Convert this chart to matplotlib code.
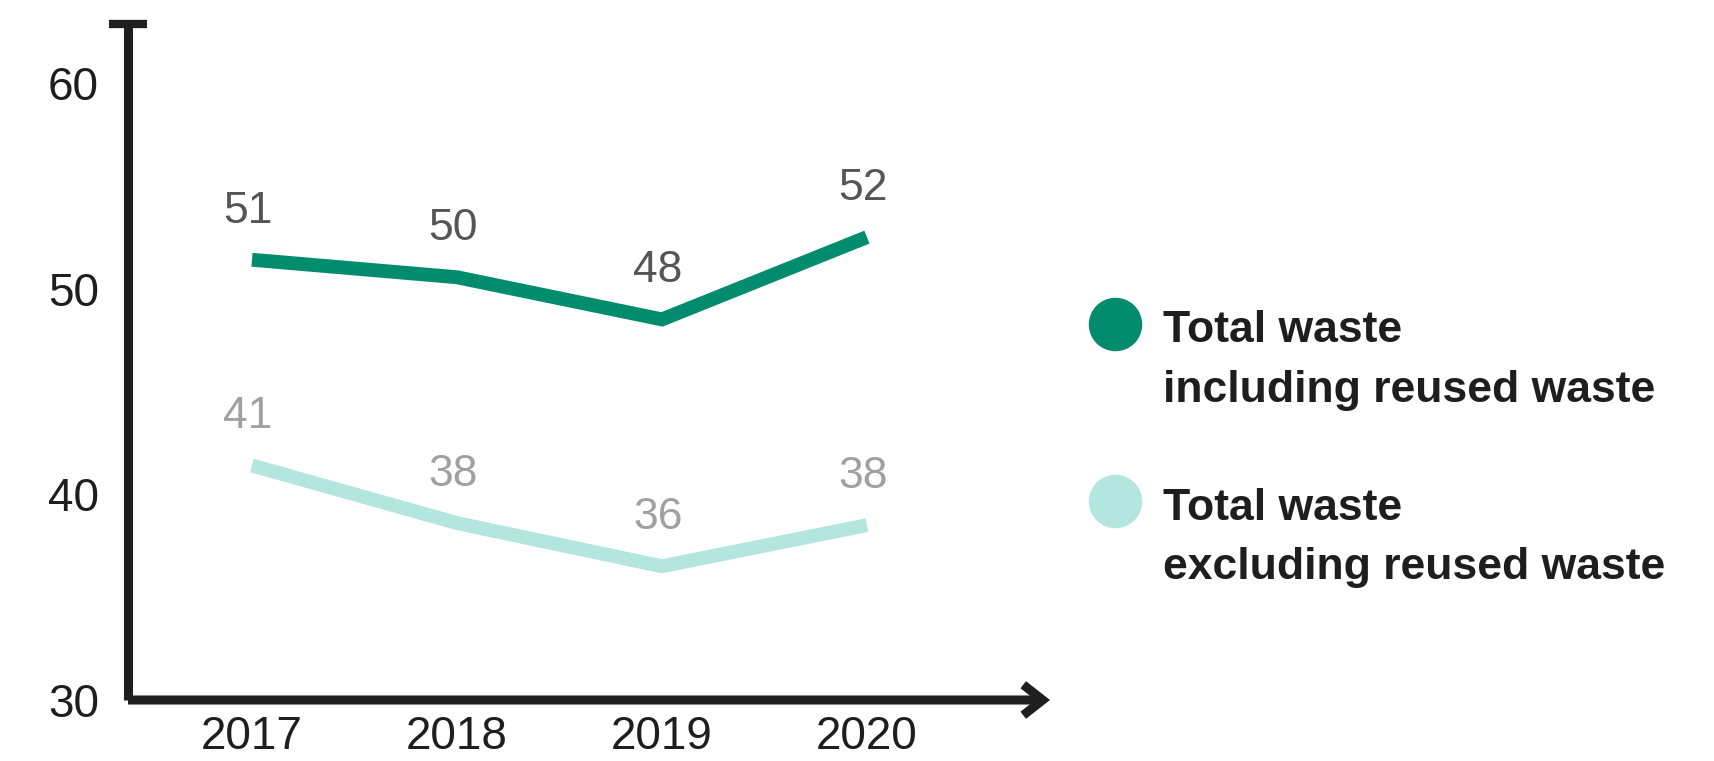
import matplotlib
matplotlib.use("Agg")
import matplotlib.pyplot as plt
from matplotlib.lines import Line2D

# ---- data ----
years = ["2017", "2018", "2019", "2020"]
incl_values = [51.4, 50.55, 48.5, 52.5]
incl_labels = ["51", "50", "48", "52"]
excl_values = [41.4, 38.6, 36.5, 38.5]
excl_labels = ["41", "38", "36", "38"]
yticks = [30, 40, 50, 60]
legend_lines = [["Total waste", "including reused waste"],
                ["Total waste", "excluding reused waste"]]

DARK = "#008C6D"
LIGHT = "#B3E6DF"
AXC = "#1E1E1E"

plt.rcParams["font.family"] = ["Liberation Sans", "DejaVu Sans"]

W, H = 1715, 761
fig = plt.figure(figsize=(W / 100, H / 100), dpi=100)

def fx(px):
    return px / W

def fy(py):
    return 1 - py / H

ax_left, ax_right, ax_bottom, ax_top = 128, 1050, 700, 24
ax = fig.add_axes([fx(ax_left), fy(ax_bottom), (ax_right - ax_left) / W, (ax_bottom - ax_top) / H])

x = list(range(len(years)))
ax.set_xlim(-0.605, 3.893)
ax.set_ylim(30, 62.86)

ax.plot(x, incl_values, color=DARK, lw=10, solid_joinstyle="miter", solid_capstyle="butt", zorder=3)
ax.plot(x, excl_values, color=LIGHT, lw=10, solid_joinstyle="miter", solid_capstyle="butt", zorder=3)

for xi, v, t in zip(x, incl_values, incl_labels):
    ax.annotate(t, (xi, v), xytext=(-3, 35), textcoords="offset points",
                ha="center", va="center", fontsize=32, color="#555555")
for xi, v, t in zip(x, excl_values, excl_labels):
    ax.annotate(t, (xi, v), xytext=(-3, 35), textcoords="offset points",
                ha="center", va="center", fontsize=32, color="#A0A0A0")

for s in ["top", "right", "bottom"]:
    ax.spines[s].set_visible(False)
ax.spines["left"].set_linewidth(6.5)
ax.spines["left"].set_color(AXC)
ax.spines["left"].set_capstyle("butt")

# top cap of y axis
ax.plot([ax.get_xlim()[0]], [ax.get_ylim()[1]], marker="_", markersize=27, mew=6,
        color=AXC, clip_on=False, zorder=5)

# x axis arrow
xl = ax.get_xlim()
ax.annotate("", xy=(xl[1], 30), xytext=(xl[0], 30), xycoords="data",
            arrowprops=dict(arrowstyle="->,head_length=14,head_width=11", mutation_scale=1,
                            lw=6.5, color=AXC, shrinkA=0, shrinkB=0, joinstyle="miter",
                            capstyle="butt"),
            annotation_clip=False)

ax.set_yticks(yticks)
ax.set_yticklabels([str(v) for v in yticks])
ax.set_xticks(x)
ax.set_xticklabels(years)
ax.tick_params(axis="y", length=0, pad=21, labelsize=33, labelcolor=AXC)
ax.tick_params(axis="x", length=0, pad=11, labelsize=33, labelcolor=AXC)
ax.set_facecolor("none")

# legend (manual)
marker_x = 1115
marker_ys = [324, 501]
colors = [DARK, LIGHT]
text_x = 1163
baselines = [[342, 402], [520, 579]]
for my, c, lines, bls in zip(marker_ys, colors, legend_lines, baselines):
    fig.add_artist(Line2D([fx(marker_x)], [fy(my)], marker="o", markersize=37.5,
                          color=c, transform=fig.transFigure, linestyle="none"))
    for line, bl in zip(lines, bls):
        fig.text(fx(text_x), fy(bl), line, fontsize=32, fontweight="bold",
                 color=AXC, ha="left", va="baseline")

fig.savefig("out.png", dpi=100)
